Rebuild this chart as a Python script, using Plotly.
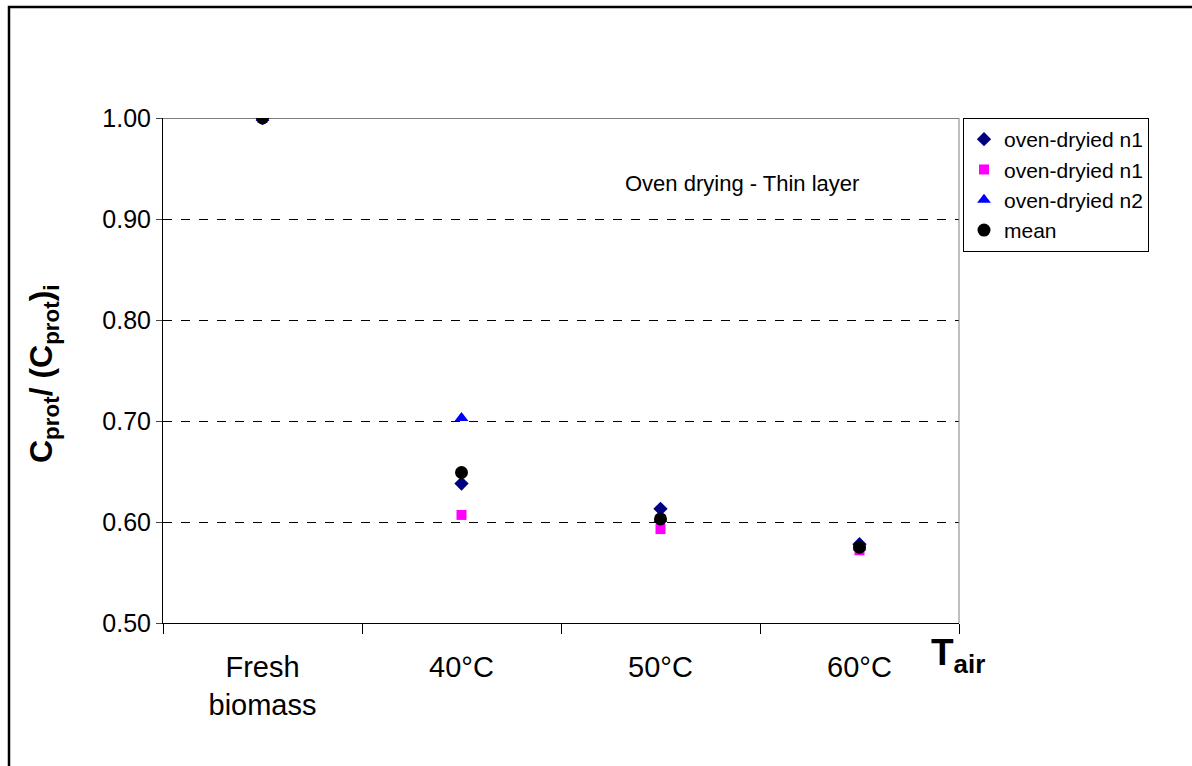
import plotly.graph_objects as go

categories = ["Fresh<br>biomass", "40°C", "50°C", "60°C"]
n1_a = [1.000, 0.638, 0.613, 0.578]
n1_b = [1.000, 0.607, 0.593, 0.572]
n2 = [1.000, 0.703, 0.603, 0.575]
mean = [1.000, 0.649, 0.603, 0.575]

fig = go.Figure()
fig.add_trace(go.Scatter(x=categories, y=n1_a, mode="markers", name="oven-dryied n1",
                         marker=dict(symbol="diamond", color="#000080", size=11)))
fig.add_trace(go.Scatter(x=categories, y=n1_b, mode="markers", name="oven-dryied n1",
                         marker=dict(symbol="square", color="#FF00FF", size=10)))
fig.add_trace(go.Scatter(x=categories, y=n2, mode="markers", name="oven-dryied n2",
                         marker=dict(symbol="triangle-up", color="#0000FF", size=12)))
fig.add_trace(go.Scatter(x=categories, y=mean, mode="markers", name="mean",
                         marker=dict(symbol="circle", color="#000000", size=13)))

L, R, T, B = 163, 1192 - 959, 118, 766 - 623
pw, ph = 1192 - L - R, 766 - T - B

def px(x):
    return (x - L) / pw

def py(y):
    return (766 - B - y) / ph

fig.update_layout(
    width=1192, height=766,
    margin=dict(l=L, r=R, t=T, b=B),
    paper_bgcolor="white", plot_bgcolor="white",
    font=dict(family="Liberation Sans, Arial, sans-serif", color="black"),
    showlegend=True,
    legend=dict(x=px(963), y=1, xanchor="left", yanchor="top",
                bordercolor="black", borderwidth=1, bgcolor="white",
                font=dict(size=21), tracegroupgap=0, itemwidth=30),
    xaxis=dict(type="category", showgrid=False, showline=True, linecolor="black", linewidth=1,
               ticks="outside", tickson="boundaries", ticklen=10, tickcolor="black",
               tickfont=dict(size=29), range=[-0.5, 3.5], ticklabelstandoff=18),
    yaxis=dict(range=[0.5, 1.0], tickvals=[0.5, 0.6, 0.7, 0.8, 0.9, 1.0], tickformat=".2f",
               showgrid=True, gridcolor="black", griddash="dash", gridwidth=1,
               showline=True, linecolor="black", linewidth=1, ticks="outside", ticklen=6,
               tickfont=dict(size=25), zeroline=False),
)

shapes = [
    dict(type="line", xref="paper", yref="y", x0=0, x1=1, y0=1.0, y1=1.0,
         line=dict(color="black", width=1)),
    dict(type="line", xref="paper", yref="paper", x0=1, x1=1, y0=0, y1=1,
         line=dict(color="#808080", width=1)),
    dict(type="rect", xref="paper", yref="paper", x0=px(9), x1=px(1300), y0=py(7), y1=py(900),
         line=dict(color="black", width=2.5)),
]
fig.update_layout(shapes=shapes)

fig.add_annotation(x=px(43), y=py(374), xref="paper", yref="paper", textangle=-90,
                   text="<b>C<sub>prot</sub>/ (C<sub>prot</sub>)<sub>i</sub></b>",
                   showarrow=False, font=dict(size=32), xanchor="center", yanchor="middle")
fig.add_annotation(x=px(742), y=py(183), xref="paper", yref="paper",
                   text="Oven drying - Thin layer", showarrow=False, font=dict(size=22),
                   xanchor="center", yanchor="middle")
fig.add_annotation(x=px(958), y=py(655), xref="paper", yref="paper",
                   text="<b>T<sub>air</sub></b>", showarrow=False, font=dict(size=37),
                   xanchor="center", yanchor="middle")

fig.write_html("out.html")
